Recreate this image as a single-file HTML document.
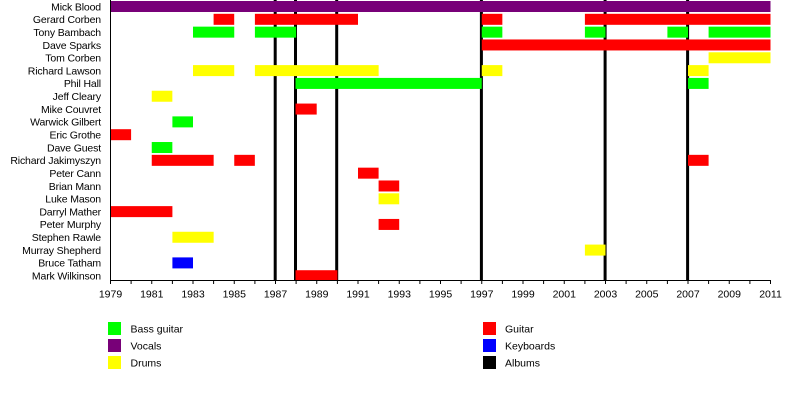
<!DOCTYPE html>
<html>
<head>
<meta charset="utf-8">
<style>
html,body{margin:0;padding:0;background:#fff;}
svg{display:block;}
text{font-family:"Liberation Sans",Arial,sans-serif;fill:#000;}
.lbl{font-size:10.5px;text-anchor:end;letter-spacing:-0.15px;}
.tk{font-size:10.5px;text-anchor:middle;}
.lg{font-size:10.5px;}
</style>
</head>
<body>
<svg width="800" height="400" viewBox="0 0 800 400" xmlns="http://www.w3.org/2000/svg">
<rect x="0" y="0" width="800" height="400" fill="#fff"/>
<!-- album lines -->
<g stroke="#000" stroke-width="3">
<line x1="275.2" y1="0" x2="275.2" y2="280"/>
<line x1="295.5" y1="0" x2="295.5" y2="280"/>
<line x1="336.7" y1="0" x2="336.7" y2="280"/>
<line x1="481.4" y1="0" x2="481.4" y2="280"/>
<line x1="605.1" y1="0" x2="605.1" y2="280"/>
<line x1="687.6" y1="0" x2="687.6" y2="280"/>
</g>
<!-- bars -->
<g>
<!-- 0 Mick Blood -->
<rect x="110.5" y="1" width="660" height="11" fill="#780078"/>
<!-- 1 Gerard Corben -->
<rect x="213.6" y="13.82" width="20.6" height="11" fill="#ff0000"/>
<rect x="254.9" y="13.82" width="103.1" height="11" fill="#ff0000"/>
<rect x="481.75" y="13.82" width="20.6" height="11" fill="#ff0000"/>
<rect x="584.9" y="13.82" width="185.6" height="11" fill="#ff0000"/>
<!-- 2 Tony Bambach -->
<rect x="193" y="26.64" width="41.25" height="11" fill="#00ff00"/>
<rect x="254.9" y="26.64" width="41.25" height="11" fill="#00ff00"/>
<rect x="481.75" y="26.64" width="20.6" height="11" fill="#00ff00"/>
<rect x="584.9" y="26.64" width="20.6" height="11" fill="#00ff00"/>
<rect x="667.4" y="26.64" width="20.6" height="11" fill="#00ff00"/>
<rect x="708.6" y="26.64" width="61.9" height="11" fill="#00ff00"/>
<!-- 3 Dave Sparks -->
<rect x="481.75" y="39.46" width="288.75" height="11" fill="#ff0000"/>
<!-- 4 Tom Corben -->
<rect x="708.6" y="52.28" width="61.9" height="11" fill="#ffff00"/>
<!-- 5 Richard Lawson -->
<rect x="193" y="65.1" width="41.25" height="11" fill="#ffff00"/>
<rect x="254.9" y="65.1" width="123.75" height="11" fill="#ffff00"/>
<rect x="481.75" y="65.1" width="20.6" height="11" fill="#ffff00"/>
<rect x="688" y="65.1" width="20.6" height="11" fill="#ffff00"/>
<!-- 6 Phil Hall -->
<rect x="295.5" y="77.92" width="186.25" height="11" fill="#00ff00"/>
<rect x="688" y="77.92" width="20.6" height="11" fill="#00ff00"/>
<!-- 7 Jeff Cleary -->
<rect x="151.75" y="90.74" width="20.6" height="11" fill="#ffff00"/>
<!-- 8 Mike Couvret -->
<rect x="295.5" y="103.56" width="21.2" height="11" fill="#ff0000"/>
<!-- 9 Warwick Gilbert -->
<rect x="172.4" y="116.38" width="20.6" height="11" fill="#00ff00"/>
<!-- 10 Eric Grothe -->
<rect x="110.5" y="129.2" width="20.6" height="11" fill="#ff0000"/>
<!-- 11 Dave Guest -->
<rect x="151.75" y="142.02" width="20.6" height="11" fill="#00ff00"/>
<!-- 12 Richard Jakimyszyn -->
<rect x="151.75" y="154.84" width="61.9" height="11" fill="#ff0000"/>
<rect x="234.25" y="154.84" width="20.6" height="11" fill="#ff0000"/>
<rect x="688" y="154.84" width="20.6" height="11" fill="#ff0000"/>
<!-- 13 Peter Cann -->
<rect x="358" y="167.66" width="20.6" height="11" fill="#ff0000"/>
<!-- 14 Brian Mann -->
<rect x="378.6" y="180.48" width="20.6" height="11" fill="#ff0000"/>
<!-- 15 Luke Mason -->
<rect x="378.6" y="193.3" width="20.6" height="11" fill="#ffff00"/>
<!-- 16 Darryl Mather -->
<rect x="110.5" y="206.12" width="61.9" height="11" fill="#ff0000"/>
<!-- 17 Peter Murphy -->
<rect x="378.6" y="218.94" width="20.6" height="11" fill="#ff0000"/>
<!-- 18 Stephen Rawle -->
<rect x="172.4" y="231.76" width="41.25" height="11" fill="#ffff00"/>
<!-- 19 Murray Shepherd -->
<rect x="584.9" y="244.58" width="20.6" height="11" fill="#ffff00"/>
<!-- 20 Bruce Tatham -->
<rect x="172.4" y="257.4" width="20.6" height="11" fill="#0000ff"/>
<!-- 21 Mark Wilkinson -->
<rect x="295.5" y="270.22" width="41.9" height="10" fill="#ff0000"/>
</g>
<!-- axes -->
<line x1="110.5" y1="0" x2="110.5" y2="280.5" stroke="#000" stroke-width="1"/>
<line x1="110" y1="280.5" x2="771" y2="280.5" stroke="#000" stroke-width="1"/>
<g stroke="#000" stroke-width="1">
<line x1="110.5" y1="280" x2="110.5" y2="284"/>
<line x1="131.1" y1="280" x2="131.1" y2="284"/>
<line x1="151.75" y1="280" x2="151.75" y2="284"/>
<line x1="172.4" y1="280" x2="172.4" y2="284"/>
<line x1="193" y1="280" x2="193" y2="284"/>
<line x1="213.6" y1="280" x2="213.6" y2="284"/>
<line x1="234.25" y1="280" x2="234.25" y2="284"/>
<line x1="254.9" y1="280" x2="254.9" y2="284"/>
<line x1="275.5" y1="280" x2="275.5" y2="284"/>
<line x1="296.1" y1="280" x2="296.1" y2="284"/>
<line x1="316.75" y1="280" x2="316.75" y2="284"/>
<line x1="337.4" y1="280" x2="337.4" y2="284"/>
<line x1="358" y1="280" x2="358" y2="284"/>
<line x1="378.6" y1="280" x2="378.6" y2="284"/>
<line x1="399.25" y1="280" x2="399.25" y2="284"/>
<line x1="419.9" y1="280" x2="419.9" y2="284"/>
<line x1="440.5" y1="280" x2="440.5" y2="284"/>
<line x1="461.1" y1="280" x2="461.1" y2="284"/>
<line x1="481.75" y1="280" x2="481.75" y2="284"/>
<line x1="502.4" y1="280" x2="502.4" y2="284"/>
<line x1="523" y1="280" x2="523" y2="284"/>
<line x1="543.6" y1="280" x2="543.6" y2="284"/>
<line x1="564.25" y1="280" x2="564.25" y2="284"/>
<line x1="584.9" y1="280" x2="584.9" y2="284"/>
<line x1="605.5" y1="280" x2="605.5" y2="284"/>
<line x1="626.1" y1="280" x2="626.1" y2="284"/>
<line x1="646.75" y1="280" x2="646.75" y2="284"/>
<line x1="667.4" y1="280" x2="667.4" y2="284"/>
<line x1="688" y1="280" x2="688" y2="284"/>
<line x1="708.6" y1="280" x2="708.6" y2="284"/>
<line x1="729.25" y1="280" x2="729.25" y2="284"/>
<line x1="749.9" y1="280" x2="749.9" y2="284"/>
<line x1="770.5" y1="280" x2="770.5" y2="284"/>
</g>
<!-- tick labels -->
<g class="tk">
<text x="110.5" y="297.5">1979</text>
<text x="151.75" y="297.5">1981</text>
<text x="193" y="297.5">1983</text>
<text x="234.25" y="297.5">1985</text>
<text x="275.5" y="297.5">1987</text>
<text x="316.75" y="297.5">1989</text>
<text x="358" y="297.5">1991</text>
<text x="399.25" y="297.5">1993</text>
<text x="440.5" y="297.5">1995</text>
<text x="481.75" y="297.5">1997</text>
<text x="523" y="297.5">1999</text>
<text x="564.25" y="297.5">2001</text>
<text x="605.5" y="297.5">2003</text>
<text x="646.75" y="297.5">2005</text>
<text x="688" y="297.5">2007</text>
<text x="729.25" y="297.5">2009</text>
<text x="770.5" y="297.5">2011</text>
</g>
<!-- row labels -->
<g class="lbl">
<text x="101" y="10.3">Mick Blood</text>
<text x="101" y="23.1">Gerard Corben</text>
<text x="101" y="35.9">Tony Bambach</text>
<text x="101" y="48.8">Dave Sparks</text>
<text x="101" y="61.6">Tom Corben</text>
<text x="101" y="74.4">Richard Lawson</text>
<text x="101" y="87.2">Phil Hall</text>
<text x="101" y="100">Jeff Cleary</text>
<text x="101" y="112.9">Mike Couvret</text>
<text x="101" y="125.7">Warwick Gilbert</text>
<text x="101" y="138.5">Eric Grothe</text>
<text x="101" y="151.3">Dave Guest</text>
<text x="101" y="164.1">Richard Jakimyszyn</text>
<text x="101" y="177">Peter Cann</text>
<text x="101" y="189.8">Brian Mann</text>
<text x="101" y="202.6">Luke Mason</text>
<text x="101" y="215.4">Darryl Mather</text>
<text x="101" y="228.2">Peter Murphy</text>
<text x="101" y="241.1">Stephen Rawle</text>
<text x="101" y="253.9">Murray Shepherd</text>
<text x="101" y="266.7">Bruce Tatham</text>
<text x="101" y="279.5">Mark Wilkinson</text>
</g>
<!-- legend -->
<rect x="108" y="322" width="13" height="13" fill="#00ff00"/>
<rect x="108" y="339" width="13" height="13" fill="#780078"/>
<rect x="108" y="356" width="13" height="13" fill="#ffff00"/>
<text class="lg" x="130.5" y="332.5">Bass guitar</text>
<text class="lg" x="130.5" y="349.5">Vocals</text>
<text class="lg" x="130.5" y="366.5">Drums</text>
<rect x="483" y="322" width="13" height="13" fill="#ff0000"/>
<rect x="483" y="339" width="13" height="13" fill="#0000ff"/>
<rect x="483" y="356" width="13" height="13" fill="#000000"/>
<text class="lg" x="505" y="332.5">Guitar</text>
<text class="lg" x="505" y="349.5">Keyboards</text>
<text class="lg" x="505" y="366.5">Albums</text>
</svg>
</body>
</html>
